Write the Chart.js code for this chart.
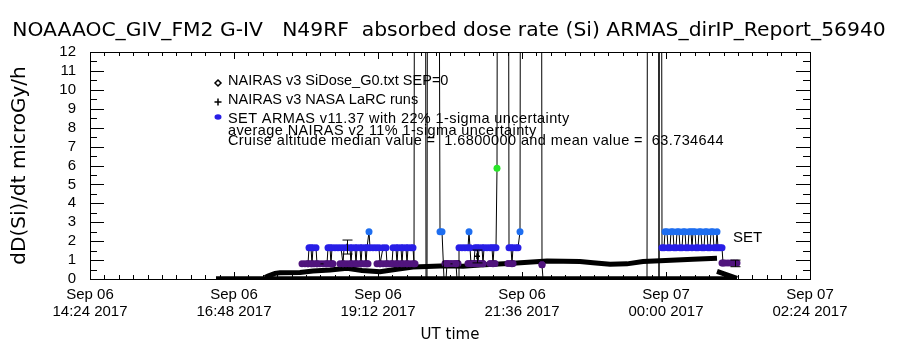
<!DOCTYPE html>
<html>
<head>
<meta charset="utf-8">
<script src="https://cdn.jsdelivr.net/npm/chart.js@4/dist/chart.umd.min.js"></script>
<style>
  html, body { margin: 0; padding: 0; background: #fff; }
</style>
</head>
<body>
<canvas id="dose" width="900" height="350"></canvas>
<script>
// x values are minutes after Sep 06 14:24 UT
const tickLabels = [
    ['Sep 06', '14:24 2017'],
    ['Sep 06', '16:48 2017'],
    ['Sep 06', '19:12 2017'],
    ['Sep 06', '21:36 2017'],
    ['Sep 07', '00:00 2017'],
    ['Sep 07', '02:24 2017']
];

// SET ARMAS dose rate, 40 = off scale spike
const armasTime = [
    218, 219, 221, 222, 223, 226, 227, 237, 238, 240, 241, 242, 245, 248, 251, 253,
    254, 257, 260, 261, 262, 265, 266, 267, 270, 271, 272, 275, 276, 277, 279, 280,
    283, 286, 289, 290, 293, 296, 297, 302, 303, 306, 307, 308, 311, 312, 313, 316,
    317, 318, 321, 323, 324, 325, 335, 336, 337, 338, 348, 350, 352, 354, 356, 357,
    366, 367, 368, 369, 372, 375, 378, 379, 380, 381, 384, 385, 387, 388, 389, 392,
    393, 394, 397, 400, 402, 403, 404, 406, 407, 408, 418, 419, 421, 422, 423, 426,
    428, 430, 431, 451, 452, 453, 557, 558, 568, 569, 570, 571, 572, 574, 575, 577,
    578, 580, 581, 583, 584, 586, 587, 589, 590, 592, 593, 595, 596, 598, 599, 601,
    602, 603, 605, 606, 608, 609, 611, 612, 614, 615, 617, 618, 620, 621, 623, 624,
    626, 627, 628, 630, 632, 633
];
const armasDose = [
    0.8, 1.65, 1.65, 0.8, 1.65, 1.65, 0.8, 0.8, 1.65, 1.65, 0.8, 1.65, 1.65, 1.65, 1.65, 0.8,
    1.65, 1.65, 1.65, 0.8, 1.65, 1.65, 0.8, 1.65, 1.65, 0.8, 1.65, 1.65, 0.8, 1.65, 2.5, 1.65,
    1.65, 1.65, 1.65, 0.8, 1.65, 1.65, 0.8, 0.8, 1.65, 1.65, 0.8, 1.65, 1.65, 0.8, 1.65, 1.65,
    0.8, 1.65, 1.65, 1.65, 0.8, 40, 40, 0, 0, 40, 40, 2.5, 2.5, 0, 0, 0.8,
    0.8, 0, 0, 1.65, 1.65, 1.65, 1.65, 2.5, 1.65, 0.8, 0.8, 1.65, 1.65, 0.8, 1.65, 1.65,
    0.8, 1.65, 1.65, 1.65, 1.65, 0.8, 1.65, 1.65, 5.85, 40, 40, 1.65, 1.65, 0.8, 1.65, 1.65,
    1.65, 2.5, 40, 40, 0.75, 0, 0, 40, 40, 0, 40, 40, 1.65, 1.65, 2.5, 2.5,
    1.65, 1.65, 2.5, 2.5, 1.65, 1.65, 2.5, 2.5, 1.65, 1.65, 2.5, 2.5, 1.65, 1.65, 2.5, 2.5,
    1.65, 2.5, 2.5, 1.65, 1.65, 2.5, 2.5, 1.65, 1.65, 2.5, 2.5, 1.65, 1.65, 2.5, 2.5, 1.65,
    1.65, 2.5, 1.65, 1.65, 1.65, 0.85
];

// low ARMAS level (purple bands)
const lowArmasTime = [
    212, 215, 218, 221, 224, 227, 230, 233, 236, 239, 242, 243,
    250, 253, 256, 259, 262, 265, 268, 271, 274, 277, 278,
    287, 290, 293, 296, 299, 302, 305, 308, 311, 314, 317, 320, 323, 325,
    355, 358, 361, 364, 367, 368, 378, 381, 384, 387, 390, 393,
    400, 403, 405, 418, 421, 423, 452,
    632, 635, 638, 641, 644, 647
];
const lowArmasDose = [
    0.8, 0.8, 0.8, 0.8, 0.8, 0.8, 0.8, 0.8, 0.8, 0.8, 0.8, 0.8,
    0.8, 0.8, 0.8, 0.8, 0.8, 0.8, 0.8, 0.8, 0.8, 0.8, 0.8,
    0.8, 0.8, 0.8, 0.8, 0.8, 0.8, 0.8, 0.8, 0.8, 0.8, 0.8, 0.8, 0.8, 0.8,
    0.82, 0.82, 0.82, 0.82, 0.82, 0.82, 0.82, 0.82, 0.82, 0.82, 0.82, 0.82,
    0.82, 0.82, 0.82, 0.82, 0.82, 0.82, 0.75,
    0.85, 0.85, 0.85, 0.85, 0.85, 0.85
];

// NAIRAS v3 SiDose_G0 (null = gap)
const nairasTime = [
    175, 178, 185, 190, 210, 223, 240, 257, 272, 290, 305, 323, 337, 357, 373, 390,
    423, 457, 490, 503, 520, 537, 553, 570, 603, 627, 627, 627, 647
];
const nairasDose = [
    0.08, 0.15, 0.3, 0.33, 0.35, 0.42, 0.47, 0.57, 0.45, 0.39, 0.5, 0.63, 0.66, 0.7, 0.68, 0.74,
    0.83, 0.95, 0.93, 0.86, 0.78, 0.8, 0.92, 0.97, 1.04, 1.1, null, 0.4, 0.03
];

const lowTime = [126, 250, 400, 550, 647];
const lowDose = [0.06, 0.06, 0.06, 0.06, 0.06];

// NAIRAS v3 NASA LaRC runs with uncertainty
const larcTime = [257, 387, 645];
const larcDose = [1.7, 1.2, 0.85];
const larcLow = [1.32, 0.85, 0.65];
const larcHigh = [2.06, 1.53, 1.0];

const titleText = 'NOAAAOC_GIV_FM2 G-IV   N49RF  absorbed dose rate (Si) ARMAS_dirIP_Report_56940';
const legendLines = [
    'NAIRAS v3 SiDose_G0.txt SEP=0',
    'NAIRAS v3 NASA LaRC runs',
    'SET ARMAS v11.37 with 22% 1-sigma uncertainty',
    'average NAIRAS v2 11% 1-sigma uncertainty',
    'Cruise altitude median value =  1.6800000 and mean value =  63.734644'
];

function doseColor(v) {
    if (v < 1.2) return 'rgb(80, 20, 125)';
    if (v < 2) return 'rgb(40, 30, 230)';
    if (v < 4) return 'rgb(30, 110, 240)';
    return 'rgb(40, 230, 40)';
}

function pairs(xs, ys) {
    return xs.map((t, i) => ({ x: t, y: ys[i] }));
}

const labelFont = "'Liberation Sans Narrow', 'Liberation Sans', sans-serif";

// inward ticks + frame, IDL style
const frameTicks = {
    id: 'frameTicks',
    afterDatasetsDraw(chart) {
        const { ctx, chartArea: a, scales: { x, y } } = chart;
        ctx.save();
        ctx.strokeStyle = '#000';
        ctx.lineWidth = 1;
        ctx.beginPath();
        for (let i = 0; i <= 50; i++) {
            const px = Math.round(x.getPixelForValue(i * 14.4)) + 0.5;
            const len = i % 10 === 0 ? 7 : 4;
            ctx.moveTo(px, a.bottom); ctx.lineTo(px, a.bottom - len);
            ctx.moveTo(px, a.top); ctx.lineTo(px, a.top + len);
        }
        for (let i = 0; i <= 24; i++) {
            const py = Math.round(y.getPixelForValue(i / 2)) + 0.5;
            const len = i % 2 === 0 ? 14 : 7;
            ctx.moveTo(a.left, py); ctx.lineTo(a.left + len, py);
            ctx.moveTo(a.right, py); ctx.lineTo(a.right - len, py);
        }
        ctx.stroke();
        ctx.strokeRect(Math.round(a.left) + 0.5, Math.round(a.top) + 0.5,
            Math.round(a.right - a.left), Math.round(a.bottom - a.top));

        // LaRC error bars
        ctx.beginPath();
        larcTime.forEach((t, i) => {
            const px = Math.round(x.getPixelForValue(t)) + 0.5;
            const lo = y.getPixelForValue(larcLow[i]);
            const hi = y.getPixelForValue(larcHigh[i]);
            ctx.moveTo(px, lo); ctx.lineTo(px, hi);
            ctx.moveTo(px - 5, hi); ctx.lineTo(px + 5, hi);
            ctx.moveTo(px - 5, lo); ctx.lineTo(px + 5, lo);
        });
        ctx.stroke();
        ctx.restore();
    },
    afterDraw(chart) {
        const { ctx } = chart;
        ctx.save();
        ctx.fillStyle = '#000';
        ctx.textBaseline = 'middle';
        ctx.textAlign = 'center';
        ctx.font = "20.3px 'DejaVu Sans'";
        ctx.fillText(titleText, 449, 31);

        ctx.textAlign = 'left';
        ctx.font = "14.5px 'Liberation Sans'";
        const ys = [81, 100, 119, 131, 141];
        legendLines.forEach((s, i) => {
            ctx.letterSpacing = i >= 2 ? '0.4px' : '0px';
            ctx.fillText(s, 228, ys[i]);
        });
        ctx.letterSpacing = '0px';

        // legend symbols
        ctx.lineWidth = 1.5;
        ctx.strokeStyle = '#000';
        ctx.beginPath();
        ctx.moveTo(218, 80); ctx.lineTo(221, 83); ctx.lineTo(218, 86); ctx.lineTo(215, 83); ctx.closePath();
        ctx.moveTo(214.5, 102); ctx.lineTo(221.5, 102);
        ctx.moveTo(218, 98.5); ctx.lineTo(218, 105.5);
        ctx.stroke();
        ctx.fillStyle = 'rgb(40, 30, 230)';
        ctx.beginPath();
        ctx.ellipse(218, 117, 3.5, 2.8, 0, 0, Math.PI * 2);
        ctx.fill();

        ctx.fillStyle = '#000';
        ctx.font = "15px 'Liberation Sans'";
        ctx.fillText('SET', 733, 238);
        ctx.restore();
    }
};

const dotRadius = c => {
    const v = c.raw ? c.raw.y : 0;
    return v > 0.3 && v < 12 ? 3.5 : 0;
};
const dotColor = c => doseColor(c.raw ? c.raw.y : 0);

new Chart(document.getElementById('dose'), {
    type: 'line',
    data: {
        datasets: [
            {
                label: 'SET ARMAS v11.37',
                data: pairs(armasTime, armasDose),
                borderColor: '#000',
                borderWidth: 1,
                tension: 0,
                pointRadius: dotRadius,
                pointBorderWidth: 0,
                pointBackgroundColor: dotColor,
                pointBorderColor: dotColor
            },
            {
                label: 'SET ARMAS low',
                data: pairs(lowArmasTime, lowArmasDose),
                showLine: false,
                pointRadius: 3.5,
                pointBorderWidth: 0,
                pointBackgroundColor: dotColor,
                pointBorderColor: dotColor
            },
            {
                label: 'NAIRAS v3 SiDose_G0',
                data: pairs(nairasTime, nairasDose),
                borderColor: '#000',
                borderWidth: 5,
                pointRadius: 0,
                spanGaps: false,
                tension: 0
            },
            {
                label: 'NAIRAS low',
                data: pairs(lowTime, lowDose),
                borderColor: '#000',
                borderWidth: 3,
                pointRadius: 0
            },
            {
                label: 'NAIRAS v3 NASA LaRC runs',
                data: pairs(larcTime, larcDose),
                showLine: false,
                pointStyle: 'cross',
                pointRadius: 3,
                borderColor: '#000',
                pointBorderColor: '#000',
                pointBorderWidth: 1.5
            }
        ]
    },
    options: {
        responsive: false,
        animation: false,
        layout: { padding: { left: 0, top: 52, right: 90, bottom: 0 } },
        plugins: {
            legend: { display: false },
            tooltip: { enabled: false }
        },
        scales: {
            x: {
                type: 'linear',
                min: 0,
                max: 720,
                grid: { display: false, drawTicks: false },
                border: { display: false },
                ticks: {
                    stepSize: 144,
                    autoSkip: false,
                    maxRotation: 0,
                    padding: 8,
                    color: '#000',
                    font: { family: labelFont, size: 15, lineHeight: 1.1 },
                    callback: v => tickLabels[Math.round(v / 144)]
                },
                title: {
                    display: true,
                    text: 'UT time',
                    color: '#000',
                    font: { family: "'DejaVu Sans'", size: 15 },
                    padding: { top: 0, bottom: 6 }
                },
                afterFit: s => { s.height = 71; }
            },
            y: {
                min: 0,
                max: 12,
                grid: { display: false, drawTicks: false },
                border: { display: false },
                ticks: {
                    stepSize: 1,
                    autoSkip: false,
                    padding: 14,
                    color: '#000',
                    font: { family: labelFont, size: 15 }
                },
                title: {
                    display: true,
                    text: 'dD(Si)/dt microGy/h',
                    color: '#000',
                    font: { family: "'DejaVu Sans'", size: 20 },
                    padding: { top: 8, bottom: 0 }
                },
                afterFit: s => { s.width = 90; }
            }
        }
    },
    plugins: [frameTicks]
});
</script>
</body>
</html>
